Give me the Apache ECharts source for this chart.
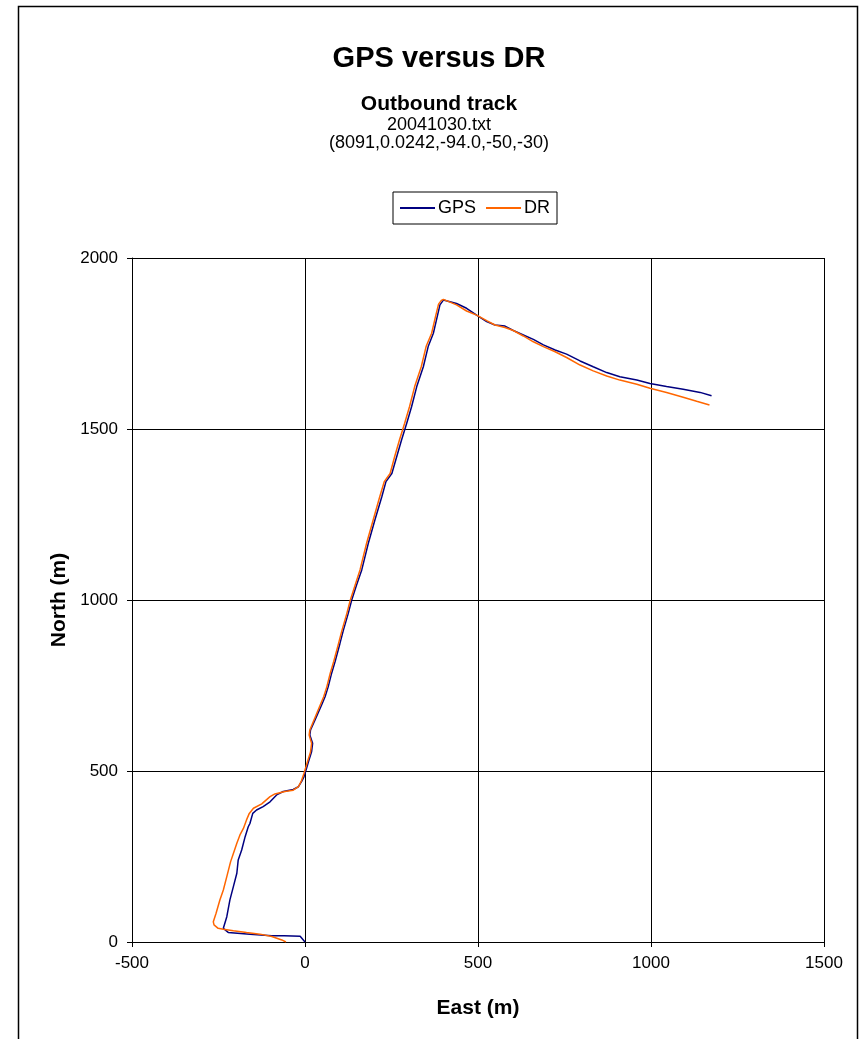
<!DOCTYPE html>
<html>
<head>
<meta charset="utf-8">
<script src="https://cdn.jsdelivr.net/npm/echarts@6/dist/echarts.min.js"></script>
<style>
html, body { margin: 0; padding: 0; background: #fff; }
#chart { width: 860px; height: 1039px; }
</style>
</head>
<body>
<div id="chart"></div>
<script>
// GPS track (east, north in metres)
var gpsEast = [0, -14, -60, -96, -159, -222, -236, -226, -217, -207, -197, -193, -183, -173, -164, -159, -151,
    -140, -121, -101, -82, -63, -34, -19, -10, -3, 3, 10, 19, 22, 14, 16, 29, 48, 58, 67, 77, 87, 101, 111, 125,
    135, 149, 164, 183, 202, 222, 234, 251, 265, 279, 294, 308, 323, 342, 356, 371, 382, 390, 400,
    405, 438, 467, 496, 525, 549, 578, 602, 631, 660, 689, 723, 756, 795, 833, 872, 910, 959, 997, 1045,
    1093, 1142, 1175];
var gpsNorth = [0, 17, 18, 18, 23, 28, 40, 74, 123, 162, 201, 240, 269, 308, 337, 347, 376,
    386, 396, 410, 430, 440, 446, 454, 469, 483, 503, 527, 556, 581, 605, 620, 649, 693, 717, 746, 786, 820, 873, 912, 961,
    1000, 1044, 1088, 1166, 1234, 1302, 1346, 1370, 1419, 1468, 1517, 1565, 1624, 1682, 1741, 1780, 1828, 1863, 1877,
    1877, 1867, 1853, 1833, 1814, 1804, 1801, 1788, 1775, 1762, 1746, 1731, 1719, 1699, 1682, 1665, 1653, 1643, 1633, 1624,
    1616, 1607, 1597];

// DR track (east, north in metres)
var drEast = [-55, -67, -96, -130, -169, -207, -236, -251, -263, -265, -257, -246, -236, -226, -215, -207, -197, -188,
    -178, -169, -161, -149, -125, -101, -87, -58, -34, -19, -10, -3, 3, 8, 16, 19, 12, 14, 26, 44, 54, 63, 73, 83, 97,
    107, 121, 131, 145, 159, 178, 197, 216, 229, 246, 259, 273, 288, 302, 317, 336, 350, 366, 377, 386, 394, 400,
    438, 467, 496, 525, 549, 578, 602, 631, 660, 689, 723, 756, 795, 833, 872, 910, 959, 997, 1045, 1093, 1132, 1169];
var drNorth = [0, 6, 16, 23, 28, 33, 37, 40, 50, 59, 84, 123, 152, 191, 235, 259, 289, 313,
    332, 357, 376, 391, 404, 425, 433, 440, 444, 454, 472, 493, 513, 530, 556, 581, 605, 620, 649, 693, 717, 746, 786, 820, 873,
    912, 961, 1000, 1044, 1088, 1166, 1234, 1302, 1346, 1370, 1419, 1468, 1517, 1565, 1624, 1682, 1741, 1780, 1828, 1865, 1876, 1879,
    1863, 1845, 1833, 1817, 1804, 1797, 1788, 1772, 1755, 1741, 1726, 1709, 1687, 1670, 1655, 1643, 1631, 1619, 1607, 1593, 1581, 1570];

var titleText = 'GPS versus DR';
var subtitleText = 'Outbound track';
var fileText = '20041030.txt';
var paramText = '(8091,0.0242,-94.0,-50,-30)';

function pairs(xs, ys) {
    var out = [];
    for (var i = 0; i < xs.length; i++) out.push([xs[i], ys[i]]);
    return out;
}

var font = 'Liberation Sans, Arial, sans-serif';
var plain = function (v) { return String(v); };
var chart = echarts.init(document.getElementById('chart'));
var option = {
    animation: false,
    backgroundColor: '#fff',
    textStyle: { fontFamily: font, color: '#000' },
    graphic: [{
        type: 'rect',
        z: -1,
        shape: { x: 18.5, y: 6.5, width: 839, height: 1100 },
        style: { fill: null, stroke: '#000', lineWidth: 1.5 }
    }],
    title: [
        { text: titleText, left: 439, top: 44, textAlign: 'center', padding: 0,
          textStyle: { fontFamily: font, fontSize: 29, fontWeight: 'bold', color: '#000' } },
        { text: subtitleText, left: 439, top: 94, textAlign: 'center', padding: 0,
          textStyle: { fontFamily: font, fontSize: 21, fontWeight: 'bold', color: '#000' } },
        { text: fileText, left: 439, top: 116, textAlign: 'center', padding: 0,
          textStyle: { fontFamily: font, fontSize: 18, fontWeight: 'normal', color: '#000' } },
        { text: paramText, left: 439, top: 134, textAlign: 'center', padding: 0,
          textStyle: { fontFamily: font, fontSize: 18, fontWeight: 'normal', color: '#000' } }
    ],
    legend: {
        left: 393, top: 192,
        padding: [7, 7],
        itemGap: 10,
        icon: 'rect',
        itemWidth: 35, itemHeight: 2,
        borderColor: '#000', borderWidth: 1,
        backgroundColor: '#fff',
        textStyle: { fontFamily: font, fontSize: 18, color: '#000', padding: [0, 0, 0, -2] },
        data: ['GPS', 'DR']
    },
    grid: { left: 132, right: 36, top: 258, bottom: 97, show: false },
    xAxis: {
        type: 'value', min: -500, max: 1500, interval: 500,
        name: 'East (m)', nameLocation: 'middle', nameGap: 56,
        nameTextStyle: { fontFamily: font, fontSize: 21, fontWeight: 'bold', color: '#000' },
        axisLine: { show: true, lineStyle: { color: '#000', width: 1 } },
        axisTick: { show: true, length: 5, lineStyle: { color: '#000' } },
        axisLabel: { fontFamily: font, fontSize: 17, color: '#000', margin: 13, formatter: plain },
        splitLine: { show: true, lineStyle: { color: '#000', width: 1 } }
    },
    yAxis: {
        type: 'value', min: 0, max: 2000, interval: 500,
        name: 'North (m)', nameLocation: 'middle', nameGap: 60,
        nameTextStyle: { fontFamily: font, fontSize: 21, fontWeight: 'bold', color: '#000' },
        axisLine: { show: true, onZero: false, lineStyle: { color: '#000', width: 1 } },
        axisTick: { show: true, length: 5, lineStyle: { color: '#000' } },
        axisLabel: { fontFamily: font, fontSize: 17, color: '#000', margin: 14, formatter: plain },
        splitLine: { show: true, lineStyle: { color: '#000', width: 1 } }
    },
    series: [
        { name: 'GPS', type: 'line', symbol: 'none', data: pairs(gpsEast, gpsNorth),
          lineStyle: { color: '#000080', width: 1.5 }, itemStyle: { color: '#000080' } },
        { name: 'DR', type: 'line', symbol: 'none', data: pairs(drEast, drNorth),
          lineStyle: { color: '#FF6600', width: 1.5 }, itemStyle: { color: '#FF6600' } }
    ]
};
chart.setOption(option);
</script>
</body>
</html>
